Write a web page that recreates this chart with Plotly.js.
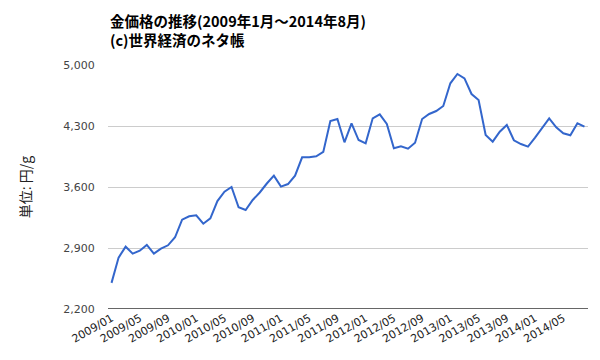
<!DOCTYPE html>
<html><head><meta charset="utf-8">
<script src="https://cdn.plot.ly/plotly-3.0.1.min.js"></script>
<style>html,body{margin:0;padding:0;background:#fff}</style>
</head><body>
<div id="chart" style="width:600px;height:360px"></div>
<script>
const months = [];
for (let y = 2009; y <= 2014; y++) {
  for (let m = 1; m <= 12; m++) {
    if (y === 2014 && m > 8) break;
    months.push(y + '/' + String(m).padStart(2, '0'));
  }
}
const prices = [
  2500, 2790, 2915, 2835, 2869, 2935, 2835, 2892, 2931, 3023, 3225, 3264,
  3275, 3179, 3241, 3439, 3546, 3600, 3367, 3336, 3451, 3537, 3640, 3730,
  3604, 3634, 3730, 3941, 3941, 3952, 4002, 4357, 4380, 4113, 4331, 4139,
  4101, 4388, 4434, 4323, 4044, 4067, 4040, 4108, 4380, 4438, 4472, 4530,
  4790, 4897, 4847, 4667, 4598, 4197, 4120, 4235, 4312, 4136, 4093, 4063,
  4166, 4274, 4388, 4285, 4216, 4193, 4331, 4292
];
const tickLabels = months.filter((_, i) => i % 4 === 0);
const yTicks = [2200, 2900, 3600, 4300, 5000];
const yTickText = ['2,200', '2,900', '3,600', '4,300', '5,000'];
const titleLines = ['金価格の推移(2009年1月～2014年8月)', '(c)世界経済のネタ帳'];

const fontFam = '"DejaVu Sans", "Noto Sans CJK JP", sans-serif';
const titleFont = {family: '"Noto Sans CJK JP", "DejaVu Sans", sans-serif', size: 14.5, color: '#000', weight: 'bold'};
Plotly.newPlot('chart', [{
  x: months, y: prices, type: 'scatter', mode: 'lines',
  line: {color: '#3366CC', width: 2}, hoverinfo: 'x+y'
}], {
  width: 600, height: 360,
  margin: {l: 108, r: 12, t: 65, b: 51},
  paper_bgcolor: '#fff', plot_bgcolor: '#fff',
  font: {family: fontFam, color: '#444'},
  showlegend: false,
  annotations: [
    {text: titleLines[0], xref: 'paper', yref: 'paper', x: 0, y: 289 / 244,
     xanchor: 'left', yanchor: 'middle', showarrow: false, font: titleFont},
    {text: titleLines[1], xref: 'paper', yref: 'paper', x: 0, y: 269 / 244,
     xanchor: 'left', yanchor: 'middle', showarrow: false, font: titleFont}
  ],
  xaxis: {
    type: 'category', range: [-0.5, 67.5],
    tickmode: 'array', tickvals: tickLabels, ticktext: tickLabels,
    tickangle: -30, showgrid: false, zeroline: false,
    showline: false, ticks: '',
    tickfont: {size: 11, color: '#222', family: fontFam}
  },
  yaxis: {
    range: [2200, 5000], tickvals: yTicks, ticktext: yTickText,
    showgrid: true, gridcolor: '#cccccc', gridwidth: 1, zeroline: false,
    ticks: 'outside', ticklen: 10, tickcolor: 'rgba(0,0,0,0)',
    tickfont: {size: 11, color: '#444', family: fontFam},
    title: {text: '単位: 円/g', standoff: 28,
      font: {size: 14, color: '#222', family: '"Noto Sans CJK JP", sans-serif'}}
  },
  shapes: [{type: 'line', xref: 'paper', yref: 'y', x0: 0, x1: 1, y0: 2200, y1: 2200,
    line: {color: '#333', width: 1.5}}]
}, {displayModeBar: false, staticPlot: true});
</script>
</body></html>
